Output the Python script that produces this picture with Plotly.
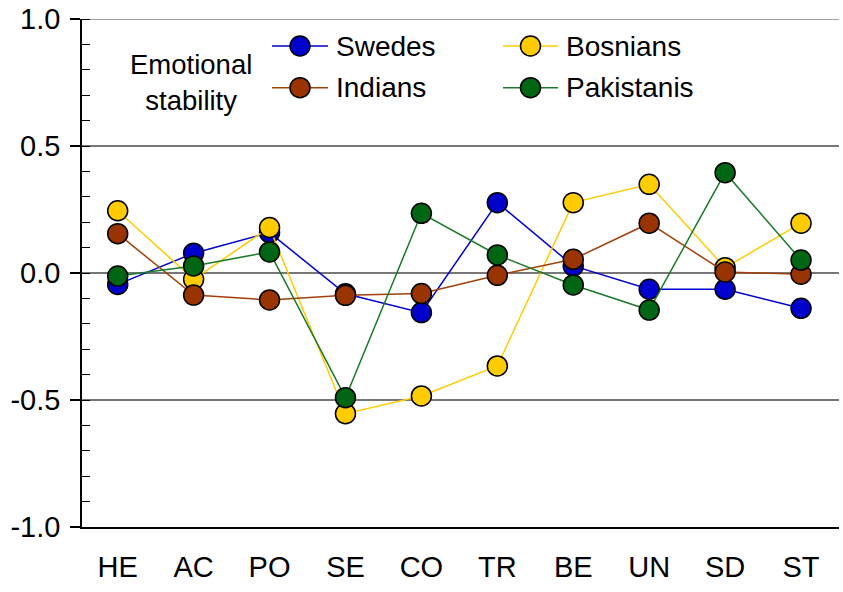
import plotly.graph_objects as go

# Trait categories on the x axis
categories = ["HE", "AC", "PO", "SE", "CO", "TR", "BE", "UN", "SD", "ST"]

# Group scores per trait
swedes = [-0.045, 0.078, 0.159, -0.082, -0.156, 0.277, 0.028, -0.064, -0.064, -0.139]
bosnians = [0.245, -0.025, 0.179, -0.554, -0.484, -0.366, 0.277, 0.349, 0.021, 0.196]
indians = [0.155, -0.087, -0.106, -0.088, -0.081, -0.009, 0.054, 0.196, 0.004, -0.005]
pakistanis = [-0.012, 0.028, 0.083, -0.491, 0.235, 0.071, -0.047, -0.146, 0.395, 0.051]

y_ticks = [-1.0, -0.5, 0.0, 0.5, 1.0]
y_ticktext = ["-1.0", "-0.5", "0.0", "0.5", "1.0"]

series = [
    ("Swedes", swedes, "#0000CC", "#0000CC"),
    ("Bosnians", bosnians, "#FFCC00", "#FFCC00"),
    ("Indians", indians, "#993300", "#A0400A"),
    ("Pakistanis", pakistanis, "#006614", "#1A7A2A"),
]

FONT = "Liberation Sans, Arial, sans-serif"
W, H = 843, 592
L, R, T, B = 82, 4, 19, 65

fig = go.Figure()

# Top gridline at the upper range limit
fig.add_shape(type="line", xref="paper", yref="y", x0=0, x1=1, y0=1, y1=1,
              line=dict(color="#808080", width=1.5), layer="below")

for name, vals, fill, line_col in series:
    fig.add_trace(go.Scatter(
        x=categories, y=vals, name=name, mode="lines+markers",
        line=dict(color=line_col, width=1.5),
        marker=dict(size=20, color=fill, line=dict(color="black", width=1.5)),
        showlegend=False,
    ))

# Hand-built legend on a pixel-scaled overlay axis
legend_rows = {"Swedes": (272, 328, 46), "Indians": (272, 328, 87.7),
               "Bosnians": (503, 558, 46), "Pakistanis": (503, 558, 87.7)}
for name, vals, fill, line_col in series:
    x0, x1, yy = legend_rows[name]
    fig.add_trace(go.Scatter(
        x=[x0, (x0 + x1) / 2, x1], y=[yy, yy, yy], mode="lines",
        line=dict(color=line_col, width=1.5), xaxis="x2", yaxis="y3",
        showlegend=False, hoverinfo="skip",
    ))
    fig.add_trace(go.Scatter(
        x=[(x0 + x1) / 2], y=[yy], mode="markers",
        marker=dict(size=20, color=fill, line=dict(color="black", width=1.5)),
        xaxis="x2", yaxis="y3", showlegend=False, hoverinfo="skip",
    ))
    fig.add_annotation(
        x=x1 + 6, y=yy, xref="x2", yref="y3", text=name, showarrow=False,
        xanchor="left", yanchor="middle", font=dict(family=FONT, size=28, color="black"),
    )

fig.add_annotation(
    x=191, y=82.5, xref="x2", yref="y3", text="Emotional<br>stability",
    showarrow=False, xanchor="center", yanchor="middle", align="center",
    font=dict(family=FONT, size=27.5, color="black"),
)

fig.update_layout(
    width=W, height=H,
    margin=dict(l=L, r=R, t=T, b=B, pad=0),
    paper_bgcolor="white", plot_bgcolor="white",
    font=dict(family=FONT, size=28, color="black"),
    xaxis=dict(
        type="category", range=[-0.47, 9.5],
        showline=True, linecolor="black", linewidth=1.5,
        ticks="", showgrid=False, zeroline=False,
        tickfont=dict(family=FONT, size=29, color="black"),
        ticklabelstandoff=13,
    ),
    yaxis=dict(
        range=[-1, 1], tickvals=y_ticks, ticktext=y_ticktext,
        showline=True, linecolor="black", linewidth=1.5,
        ticks="outside", ticklen=10, tickwidth=1.5, tickcolor="black",
        minor=dict(dtick=0.1, ticks="inside", ticklen=8, tickwidth=1.2,
                   tickcolor="black", showgrid=False),
        showgrid=True, gridcolor="#777777", gridwidth=1.5,
        zeroline=False,
        tickfont=dict(family=FONT, size=29, color="black"),
        ticklabelstandoff=4,
    ),
    yaxis2=dict(
        overlaying="y", range=[-1, 1], tickvals=y_ticks,
        showticklabels=False, ticks="inside", ticklen=8, tickwidth=1.5,
        tickcolor="black", showgrid=False, zeroline=False, showline=False,
    ),
    xaxis2=dict(overlaying="x", range=[L, W - R], visible=False),
    yaxis3=dict(overlaying="y", range=[H - B, T], visible=False),
)

fig.write_html("out.html")
